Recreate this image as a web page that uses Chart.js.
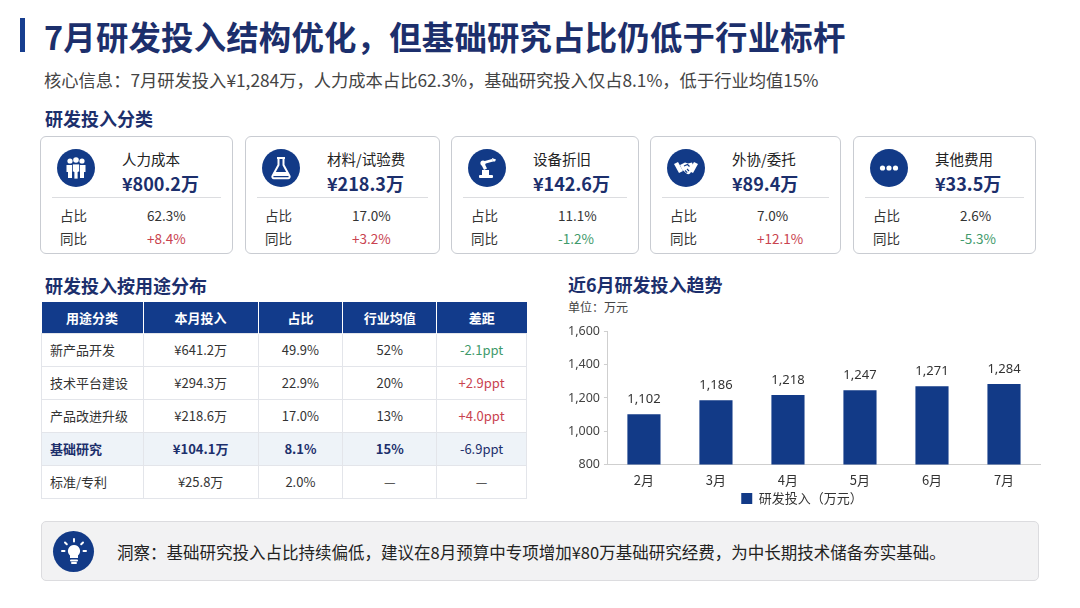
<!DOCTYPE html>
<html>
<head>
<meta charset="utf-8">
<script src="https://cdn.jsdelivr.net/npm/chart.js@4.4.1/dist/chart.umd.min.js"></script>
<style>
*{margin:0;padding:0;box-sizing:border-box;}
html,body{width:1080px;height:608px;background:#fff;overflow:hidden;font-family:"Noto Sans CJK SC","Noto Sans",sans-serif;color:#222;}
#root{position:relative;width:1080px;height:608px;}
.abs{position:absolute;}
#bar{left:20px;top:18px;width:5px;height:34px;background:#173e8f;}
#title{left:44px;top:12px;font-size:32.4px;font-weight:700;color:#1c2f6c;letter-spacing:0.2px;white-space:nowrap;}
#sub{left:44px;top:67px;font-size:17.3px;color:#444;white-space:nowrap;}
.sec{font-size:18px;font-weight:700;color:#1c2f6c;white-space:nowrap;}
.card{position:absolute;top:136px;height:118px;border:1px solid #c9ccd2;border-radius:6px;background:#fff;}
.icon{position:absolute;left:16px;top:12px;width:38px;height:38px;border-radius:50%;background:#123a87;display:flex;align-items:center;justify-content:center;}
.cname{position:absolute;left:81px;top:11px;font-size:14.5px;color:#222;}
.cval{position:absolute;left:81px;top:33px;font-size:18px;font-weight:700;color:#1c2f6c;}
.div{position:absolute;left:11px;right:11px;top:60px;height:1px;background:#dcdde0;}
.row{position:absolute;left:19px;font-size:13.5px;color:#333;}
.rv{position:absolute;left:106px;font-size:13.5px;color:#333;}
.up{color:#c9434f;}
.down{color:#3f9a6b;}
table{border-collapse:collapse;position:absolute;left:41px;top:302px;width:486px;font-size:13px;}
th{background:#123b8b;color:#fff;font-weight:700;height:31px;border-right:1px solid #fff;text-align:center;}
th:last-child{border-right:none;}
td{height:33px;border:1px solid #e3e5ea;text-align:center;color:#333;}
td:first-child{text-align:left;padding-left:8px;}
tr.hl td{background:#eef3f8;font-weight:700;color:#1c2f6c;}
tr.hl td.up,tr.hl td.down{font-weight:400;}
#chartWrap{left:564px;top:320px;width:484px;height:195px;}
#insight{left:41px;top:521px;width:998px;height:60px;background:#f2f2f3;border:1px solid #dcdcdf;border-radius:5px;}
#ins-icon{position:absolute;left:11px;top:9px;width:41px;height:41px;border-radius:50%;background:#123a87;display:flex;align-items:center;justify-content:center;}
#ins-text{position:absolute;left:75px;top:18px;font-size:16.5px;color:#222;white-space:nowrap;}
</style>
</head>
<body>
<div id="root">
  <div class="abs" id="bar"></div>
  <div class="abs" id="title">7月研发投入结构优化，但基础研究占比仍低于行业标杆</div>
  <div class="abs" id="sub">核心信息：7月研发投入¥1,284万，人力成本占比62.3%，基础研究投入仅占8.1%，低于行业均值15%</div>
  <div class="abs sec" style="left:45px;top:105px;">研发投入分类</div>
  <div id="cards"></div>
  <div class="abs sec" style="left:45px;top:272px;">研发投入按用途分布</div>
  <table id="tbl"></table>
  <div class="abs sec" style="left:568px;top:271px;">近6月研发投入趋势</div>
  <div class="abs" style="left:568px;top:298px;font-size:12px;color:#444;">单位：万元</div>
  <div class="abs" id="chartWrap"><canvas id="c"></canvas></div>
  <div class="abs" id="insight">
    <div id="ins-icon">
      <svg width="30" height="30" viewBox="0 0 30 30" fill="none" stroke="#fff" stroke-width="2" stroke-linecap="round">
        <path d="M15 8 a6 6 0 0 1 4 10.5 v2.5 h-8 v-2.5 a6 6 0 0 1 4 -10.5z" fill="#fff" stroke="none"/>
        <path d="M12 23.5 h6 M13 26 h4"/>
        <path d="M15 2 v2.5 M6 5.5 l1.8 1.8 M24 5.5 l-1.8 1.8 M3 14 h2.5 M27 14 h-2.5"/>
      </svg>
    </div>
    <div id="ins-text">洞察：基础研究投入占比持续偏低，建议在8月预算中专项增加¥80万基础研究经费，为中长期技术储备夯实基础。</div>
  </div>
</div>
<script>
// ---- Card data ----
const cardNames = ["人力成本","材料/试验费","设备折旧","外协/委托","其他费用"];
const cardValues = ["¥800.2万","¥218.3万","¥142.6万","¥89.4万","¥33.5万"];
const cardShares = ["62.3%","17.0%","11.1%","7.0%","2.6%"];
const cardYoy = ["+8.4%","+3.2%","-1.2%","+12.1%","-5.3%"];

// ---- Table data ----
const tblHeaders = ["用途分类","本月投入","占比","行业均值","差距"];
const tblCategories = ["新产品开发","技术平台建设","产品改进升级","基础研究","标准/专利"];
const tblInvest = ["¥641.2万","¥294.3万","¥218.6万","¥104.1万","¥25.8万"];
const tblShare = ["49.9%","22.9%","17.0%","8.1%","2.0%"];
const tblIndustry = ["52%","20%","13%","15%","—"];
const tblGap = ["-2.1ppt","+2.9ppt","+4.0ppt","-6.9ppt","—"];

// ---- Chart data ----
const months = ["2月","3月","4月","5月","6月","7月"];
const rdInvest = [1102,1186,1218,1247,1271,1284];
const yTicks = [800,1000,1200,1400,1600];
const seriesName = "研发投入（万元）";

const icons = [
 '<svg width="26" height="26" viewBox="0 0 26 26" fill="#fff"><circle cx="7" cy="6" r="2.6"/><circle cx="13" cy="5" r="2.8"/><circle cx="19" cy="6" r="2.6"/><path d="M3.5 10h7v7h-1.5v6h-4v-6h-1.5z"/><path d="M15.5 10h7v7h-1.5v6h-4v-6h-1.5z"/><path d="M9.5 9h7v8h-1.5v7h-4v-7h-1.5z" stroke="#123a87" stroke-width="0.8"/></svg>',
 '<svg width="26" height="26" viewBox="0 0 26 26" fill="none" stroke="#fff" stroke-width="2" stroke-linejoin="round"><path d="M9 3h8M10.5 3v7L4.5 21a1.5 1.5 0 0 0 1.3 2.2h14.4a1.5 1.5 0 0 0 1.3-2.2L15.5 10V3"/><path d="M7 17h12l2 4H5z" fill="#fff" stroke="none"/></svg>',
 '<svg width="26" height="26" viewBox="0 0 26 26" fill="#fff"><rect x="5" y="20" width="14" height="3" rx="1"/><rect x="8" y="15" width="7" height="5"/><path d="M10 15 L7 9 L10 7.5 L13 13.5z"/><circle cx="9" cy="8" r="2.6"/><path d="M9 6.5 L18 4 L19 6.5 L10 9z"/><path d="M18 3 l4 1.5 -1 2 -2.5 0 z"/></svg>',
 '<svg width="28" height="28" viewBox="0 0 28 28" fill="#fff"><path d="M2 10 l4 -2 5 9 -4 2z"/><path d="M26 10 l-4 -2 -5 9 4 2z"/><path d="M8 11 l5 -2.5 3 1 4 -1 2 5 -4 6 c-1 1 -2.5 1 -3.5 0 l-4.5 -4 z" /><path d="M12 12 l3.5 -1.5 2 2" fill="none" stroke="#123a87" stroke-width="1.2"/><path d="M11 18 l2 2 M13 16.5 l2.2 2.2 M15 15 l2 2" stroke="#123a87" stroke-width="1.1"/></svg>',
 '<svg width="26" height="26" viewBox="0 0 26 26" fill="#fff"><circle cx="6.5" cy="13" r="2.6"/><circle cx="13" cy="13" r="2.6"/><circle cx="19.5" cy="13" r="2.6"/></svg>'
];

const cardLefts = [40,245,451,650,853];
const cardWidths = [193,195,188,191,183];
const cardsEl = document.getElementById('cards');
cardNames.forEach((n,i)=>{
  const d = document.createElement('div');
  d.className='card';
  d.style.left = cardLefts[i]+'px';
  d.style.width = cardWidths[i]+'px';
  const cls = cardYoy[i].startsWith('-') ? 'down' : 'up';
  d.innerHTML = `<div class="icon">${icons[i]}</div>
    <div class="cname">${n}</div>
    <div class="cval">${cardValues[i]}</div>
    <div class="div"></div>
    <div class="row" style="top:68px;">占比</div><div class="rv" style="top:68px;">${cardShares[i]}</div>
    <div class="row" style="top:91px;">同比</div><div class="rv ${cls}" style="top:91px;">${cardYoy[i]}</div>`;
  cardsEl.appendChild(d);
});

const colW = [102,115,85,94,90];
let html = '<tr>' + tblHeaders.map((h,i)=>`<th style="width:${colW[i]}px">${h}</th>`).join('') + '</tr>';
tblCategories.forEach((c,i)=>{
  const g = tblGap[i];
  const gc = g.startsWith('-') ? 'down' : (g.startsWith('+') ? 'up' : '');
  html += `<tr class="${c==='基础研究'?'hl':''}"><td>${c}</td><td>${tblInvest[i]}</td><td>${tblShare[i]}</td><td>${tblIndustry[i]}</td><td class="${gc}">${g}</td></tr>`;
});
document.getElementById('tbl').innerHTML = html;

const valueLabels = {
  id:'valueLabels',
  afterDatasetsDraw(chart){
    const ctx = chart.ctx;
    const meta = chart.getDatasetMeta(0);
    ctx.save();
    ctx.font = '13px "Noto Sans", sans-serif';
    ctx.fillStyle = '#333';
    ctx.textAlign = 'center';
    ctx.textBaseline = 'bottom';
    meta.data.forEach((bar,i)=>{
      ctx.fillText(rdInvest[i].toLocaleString('en-US'), bar.x, bar.y - 8);
    });
    ctx.restore();
  }
};

new Chart(document.getElementById('c'), {
  type:'bar',
  data:{ labels: months, datasets:[{ label: seriesName, data: rdInvest, backgroundColor:'#123a87', borderWidth:0, categoryPercentage:0.92, barPercentage:0.5 }]},
  options:{
    responsive:true, maintainAspectRatio:false, animation:false,
    layout:{padding:{top:4,right:8,left:0,bottom:0}},
    plugins:{
      legend:{position:'bottom', labels:{boxWidth:11, boxHeight:11, padding:4, color:'#333', font:{size:13, family:'"Noto Sans CJK SC"'}}},
      tooltip:{enabled:false}
    },
    scales:{
      x:{ grid:{display:false}, border:{color:'#cfcfcf'}, ticks:{color:'#333', font:{size:13, family:'"Noto Sans CJK SC"'}, padding:0}},
      y:{ min:800, max:1600, afterBuildTicks(axis){ axis.ticks = yTicks.map(v=>({value:v})); },
          grid:{drawOnChartArea:false, drawTicks:true, tickLength:4, color:'#cfcfcf'}, border:{color:'#cfcfcf'},
          ticks:{color:'#444', font:{size:12.5, family:'"Noto Sans"'}, padding:4, callback:v=>v.toLocaleString('en-US')}}
    }
  },
  plugins:[valueLabels]
});
</script>
</body>
</html>
